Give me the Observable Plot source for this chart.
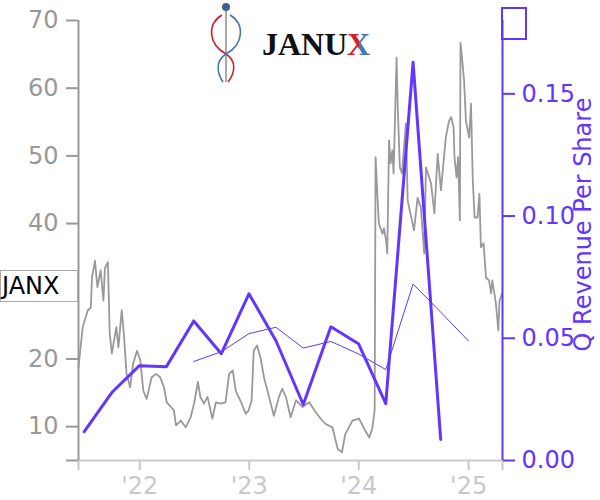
<!DOCTYPE html>
<html><head><meta charset="utf-8">
<script src="https://cdn.jsdelivr.net/npm/d3@7"></script>
<script src="https://cdn.jsdelivr.net/npm/@observablehq/plot@0.6"></script>
<style>
body{margin:0;background:#fff;}
#wrap{position:relative;width:600px;height:500px;overflow:hidden;font-family:"DejaVu Sans",sans-serif;}
#wrap svg{position:absolute;left:0;top:0;}
.tag{position:absolute;left:0;top:270px;width:78px;height:32px;box-sizing:border-box;border:1px solid #aaa;background:#fff;font-family:"DejaVu Sans";font-size:24px;line-height:30px;padding-left:1px;color:#000;}
.box{position:absolute;left:501px;top:7px;width:26px;height:33px;box-sizing:border-box;border:2px solid #6236ff;}
</style></head><body><div id="wrap"></div>
<script>
// ---- data ----
const ticker = "JANX";
const company = "JANUX";
const revLabel = "Q Revenue Per Share";

const priceDates = ["2021-06-11","2021-06-25","2021-07-12","2021-07-22","2021-07-26","2021-08-05","2021-08-13","2021-08-24","2021-09-02","2021-09-07","2021-09-17","2021-09-23","2021-09-30","2021-10-15","2021-10-22","2021-11-02","2021-11-09","2021-11-18","2021-11-30","2021-12-10","2021-12-23",
"2022-01-03","2022-01-13","2022-01-24","2022-02-10","2022-02-25","2022-03-10","2022-03-23","2022-04-01","2022-04-25","2022-05-02","2022-05-18","2022-06-03","2022-06-20","2022-07-01","2022-07-14","2022-07-22","2022-08-03","2022-08-15","2022-08-31","2022-09-12","2022-09-28","2022-10-14","2022-10-26","2022-11-07","2022-11-17","2022-12-05","2022-12-20","2022-12-30",
"2023-01-09","2023-01-16","2023-01-27","2023-02-08","2023-02-20","2023-03-08","2023-03-24","2023-04-10","2023-04-21","2023-05-03","2023-05-19","2023-06-06","2023-06-28","2023-07-20","2023-08-11","2023-09-01","2023-09-13","2023-10-05","2023-10-23","2023-11-06","2023-11-17","2023-12-11",
"2024-01-02","2024-01-19","2024-02-05","2024-02-15","2024-02-23","2024-02-26","2024-03-04","2024-03-08","2024-03-20","2024-03-25","2024-04-01","2024-04-05","2024-04-11","2024-04-16","2024-04-22","2024-04-26","2024-05-06","2024-05-10","2024-05-17","2024-05-24","2024-06-06","2024-06-12","2024-06-21","2024-07-03","2024-07-15","2024-07-26","2024-08-06","2024-08-12","2024-08-29","2024-09-09","2024-09-20","2024-10-01","2024-10-11","2024-10-17","2024-10-28","2024-11-04","2024-11-12","2024-11-15","2024-11-22","2024-11-27","2024-12-03","2024-12-05","2024-12-12","2024-12-17","2024-12-23",
"2025-01-03","2025-01-09","2025-01-15","2025-01-21","2025-01-31","2025-02-06","2025-02-11","2025-02-20","2025-02-28","2025-03-10","2025-03-17","2025-03-21","2025-04-02","2025-04-10","2025-04-14","2025-04-23"];
const priceValues = [18.8,24.7,27.2,27.6,32.1,34.5,30.6,33.1,28.6,33.4,34.3,23.8,20.8,24.7,21.7,27.2,23.8,17.9,15.8,19.3,21.2,
19.8,15.3,14.1,17.3,17.8,17.3,15.8,13.6,12.4,10.2,10.9,9.9,11.4,13.4,16.6,14.4,13.4,14.4,11.2,13.6,13.4,13.6,17.8,18.3,15.3,13.6,11.9,12.4,
13.9,21.2,22.0,20.1,17.1,14.4,11.6,14.4,15.6,14.4,11.4,13.9,12.9,13.6,12.1,10.9,10.4,9.9,6.7,6.2,8.9,10.9,
11.2,9.7,8.4,9.7,12.4,49.8,43.4,40.0,38.5,39.3,37.5,35.6,52.3,48.9,50.8,47.4,64.5,57.1,48.3,47.4,54.8,43.4,41.5,39.0,43.8,42.4,35.6,48.3,45.9,41.5,50.3,44.9,49.8,52.7,55.2,55.7,54.2,49.8,46.8,49.8,40.5,66.7,63.6,61.1,55.2,
52.7,57.7,46.4,40.9,40.9,44.4,36.5,37.1,32.0,31.6,29.7,31.6,28.2,24.2,28.6,29.7];

const revDates = ["2021-06-30","2021-09-30","2021-12-31","2022-03-31","2022-06-30","2022-09-30","2022-12-31","2023-03-31","2023-06-30","2023-09-30","2023-12-31","2024-03-31","2024-06-30","2024-09-30"];
const revValues = [0.0118,0.0278,0.0388,0.0384,0.0571,0.0437,0.0682,0.0490,0.0229,0.0547,0.0478,0.0233,0.1629,0.0086];

const avgDates = ["2022-06-30","2022-09-30","2022-12-31","2023-03-31","2023-06-30","2023-09-30","2023-12-31","2024-03-31","2024-06-30","2024-09-30","2024-12-31"];
const avgValues = [0.0405,0.0445,0.0519,0.0545,0.0460,0.0487,0.0436,0.0372,0.0722,0.0607,0.0490];

const xDomain = ["2021-06-11","2025-04-24"];
const yearTicks = ["2022-01-01","2023-01-01","2024-01-01","2025-01-01"];
const priceTicks = [5,10,20,30,40,50,60,70];
const priceTickLabels = ["","10","20","","40","50","60","70"];
const revTicks = [0,0.05,0.10,0.15];

// ---- build ----
const PURPLE = "#6236ff";
const X0 = new Date(xDomain[0]), X1 = new Date(xDomain[1]);
const price = priceDates.map((d,i)=>({date:new Date(d), v:priceValues[i]}));
const rev = revDates.map((d,i)=>({date:new Date(d), v:revValues[i]}));
const avg = avgDates.map((d,i)=>({date:new Date(d), v:avgValues[i]}));
const xTicks = [X0, ...yearTicks.map(d=>new Date(d)), X1];
const isYear = d => yearTicks.includes(d.toISOString().slice(0,10));

const common = {
  width:600, height:500, marginLeft:78, marginRight:98, marginTop:20, marginBottom:40,
  x:{type:"utc", domain:[X0,X1]},
  style:{fontFamily:"DejaVu Sans", fontSize:"24px", background:"transparent", overflow:"visible"}
};

const p1 = Plot.plot({
  ...common,
  y:{domain:[5,70]},
  marks:[
    Plot.ruleY([5], {stroke:"#ccc", strokeWidth:2}),
    Plot.axisX({ticks:xTicks, tickFormat:d => isYear(d) ? "'" + String(d.getUTCFullYear()).slice(2) : "",
      color:"#c8c8c8", tickSize:10, tickPadding:6, label:null, fontSize:24, strokeWidth:2}),
    Plot.ruleX([X0], {stroke:"#999", strokeWidth:2}),
    Plot.axisY({ticks:priceTicks, tickFormat:d => priceTickLabels[priceTicks.indexOf(d)],
      color:"#999", tickSize:12, tickPadding:8, label:null, fontSize:24, strokeWidth:2}),
    Plot.line(price, {x:"date", y:"v", stroke:"#999", strokeWidth:1.8})
  ]
});

const p2 = Plot.plot({
  ...common,
  x:{type:"utc", domain:[X0,X1], axis:null},
  y:{domain:[0,0.18]},
  marks:[
    Plot.ruleX([X1], {stroke:PURPLE, strokeWidth:2}),
    Plot.axisY({anchor:"right", ticks:revTicks, tickFormat:d3.format(".2f"),
      color:PURPLE, tickSize:12, tickPadding:7, label:null, fontSize:24, strokeWidth:2}),
    Plot.line(avg, {x:"date", y:"v", stroke:PURPLE, strokeWidth:1}),
    Plot.line(rev, {x:"date", y:"v", stroke:PURPLE, strokeWidth:3}),
    Plot.text([revLabel], {text:d=>d, frameAnchor:"right", textAnchor:"middle", lineAnchor:"middle",
      dx:81, dy:-16, rotate:-90, fill:PURPLE, fontSize:24})
  ]
});

const wrap = document.getElementById("wrap");
wrap.appendChild(p1);
wrap.appendChild(p2);

// logo
const logo = d3.create("svg").attr("width",600).attr("height",100);
const defs = logo.append("defs");
const g = defs.append("linearGradient").attr("id","xg").attr("x1","0").attr("x2","1").attr("y1","0").attr("y2","0");
g.append("stop").attr("offset","0").attr("stop-color","#d0202a");
g.append("stop").attr("offset","0.5").attr("stop-color","#d0202a");
g.append("stop").attr("offset","0.5").attr("stop-color","#4a78b5");
g.append("stop").attr("offset","1").attr("stop-color","#4a78b5");
logo.append("line").attr("x1",226).attr("x2",226).attr("y1",11).attr("y2",82).attr("stroke","#a8a8a8").attr("stroke-width",2);
logo.append("path").attr("d","M222,15 C207,24 208,44 226,54 C237,61 235,73 228,82").attr("fill","none").attr("stroke","#d0202a").attr("stroke-width",1.6);
logo.append("path").attr("d","M230,15 C245,24 244,44 226,54 C215,61 217,73 223,82").attr("fill","none").attr("stroke","#4a78b5").attr("stroke-width",1.6);
logo.append("circle").attr("cx",226).attr("cy",7).attr("r",4).attr("fill","#3d5f93");
logo.append("text").attr("x",262).attr("y",55).attr("font-family","Liberation Serif").attr("font-weight","bold").attr("font-size",32).attr("fill","#111").text(company.slice(0,4));
logo.append("text").attr("x",347).attr("y",55).attr("font-family","Liberation Serif").attr("font-weight","bold").attr("font-size",32).attr("fill","url(#xg)").text(company.slice(4));
wrap.appendChild(logo.node());

const tag = document.createElement("div");
tag.className = "tag"; tag.textContent = ticker;
wrap.appendChild(tag);
const box = document.createElement("div");
box.className = "box";
wrap.appendChild(box);
</script></body></html>
